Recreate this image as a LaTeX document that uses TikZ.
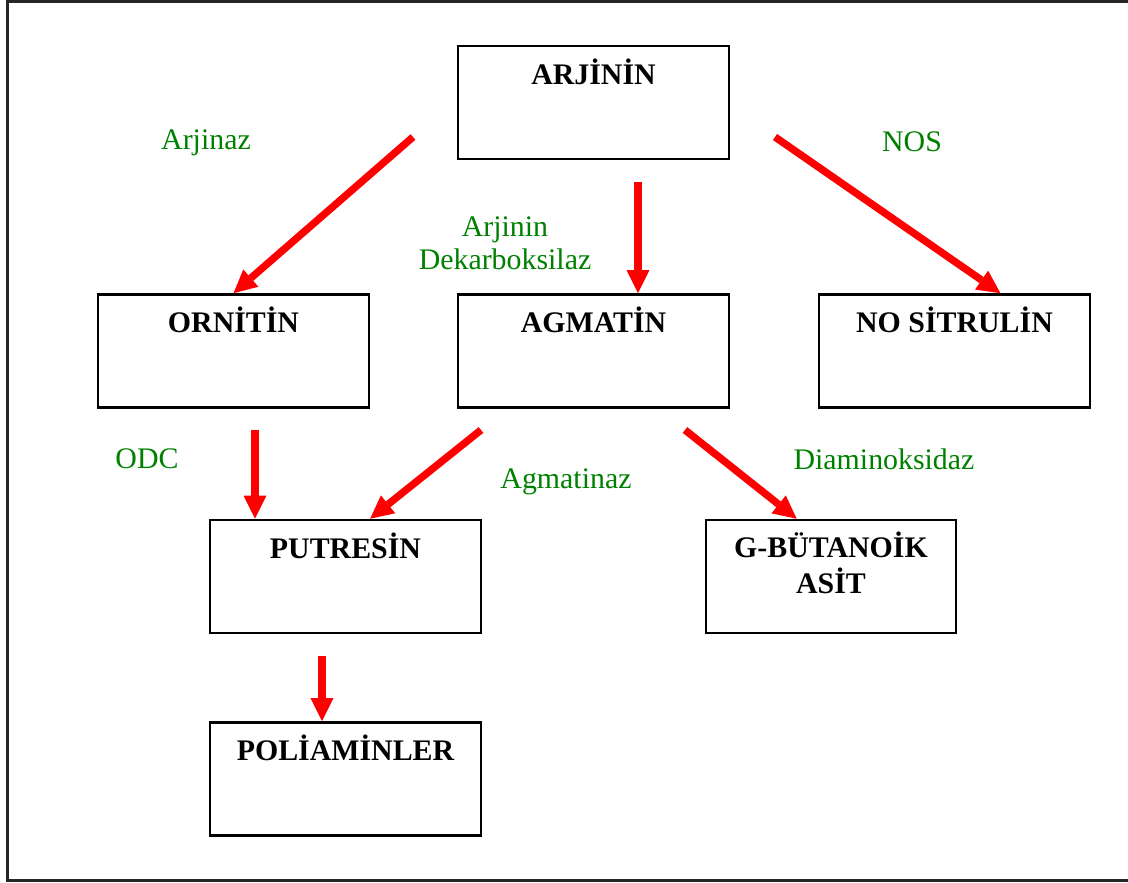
\documentclass[tikz,border=0pt]{standalone}
\usepackage{fontspec}
\setmainfont{Liberation Serif}
\usetikzlibrary{positioning,calc,arrows.meta}
\definecolor{enzgreen}{RGB}{0,128,0}

\begin{document}
\begin{tikzpicture}[x=0.02cm, y=-0.02cm,
  >={Triangle[width=0.46cm, length=0.46cm, line width=0pt]},
  box/.style={rectangle, draw=black, line width=1.5pt, minimum width=5.42cm, minimum height=2.26cm, inner sep=0pt, align=center, text height=0.76cm, text depth=1.5cm, font=\fontsize{17}{20}\selectfont\bfseries},
  arrow/.style={->, draw=red, fill=red, line width=4.2pt},
  enzyme/.style={text=enzgreen, align=center, font=\fontsize{17}{19}\selectfont}]

  \useasboundingbox (0,0) rectangle (1128,882);
  \draw[line width=1.5pt, black!85] (7.5,1.5) rectangle (1135,880.5);

  % boxes
  \node [box] (arjinin) at (593.5,102.5) {ARJİNİN};
  \node [box] (ornitin) at (233.5,351) {ORNİTİN};
  \node [box] (agmatin) at (593.5,351) {AGMATİN};
  \node [box] (nositrulin) at (954.5,351) {NO SİTRULİN};
  \node [box] (putresin) at (345.5,576.5) {PUTRESİN};
  \node [box, minimum width=5cm, text height=1.46cm, text depth=0.8cm] (butanoik) at (831,576.5) {G-BÜTANOİK\\ASİT};
  \node [box] (poliaminler) at (345.5,779) {POLİAMİNLER};

  % enzymes
  \node [enzyme] (arjinaz) at (206,143) {Arjinaz};
  \node [enzyme] (nos) at (912,142) {NOS};
  \node [enzyme] (dekarb) at (505,243) {Arjinin\\Dekarboksilaz};
  \node [enzyme] (odc) at (147,459) {ODC};
  \node [enzyme] (agmatinaz) at (566,482) {Agmatinaz};
  \node [enzyme] (diamin) at (884,459) {Diaminoksidaz};

  % arrows
  \coordinate (s1) at (413,137);
  \coordinate (s2) at (638,182);
  \coordinate (s3) at (775,137);
  \coordinate (s4) at (255,430);
  \coordinate (s5) at (481,430);
  \coordinate (s6) at (685,430);
  \coordinate (s7) at (322,656);

  \draw [arrow] (s1) -- (ornitin.north);
  \draw [arrow] (s2) -- (s2 |- agmatin.north);
  \draw [arrow] (s3) -- ($(nositrulin.north west)!0.668!(nositrulin.north east)$);
  \draw [arrow] (s4) -- (s4 |- putresin.north);
  \draw [arrow] (s5) -- ($(putresin.north west)!0.59!(putresin.north east)$);
  \draw [arrow] (s6) -- ($(butanoik.north west)!0.364!(butanoik.north east)$);
  \draw [arrow] (s7) -- (s7 |- poliaminler.north);
\end{tikzpicture}
\end{document}
